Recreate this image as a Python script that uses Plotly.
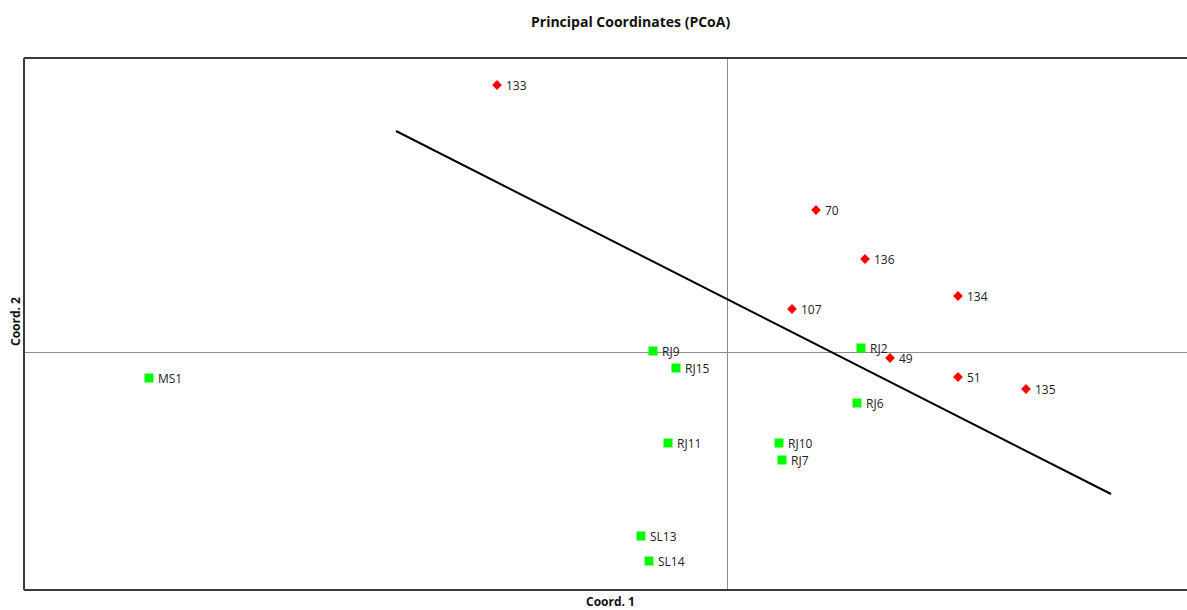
import plotly.graph_objects as go

# PCoA scores (Coord. 1, Coord. 2) for the two groups of samples
red_labels = ["133", "70", "136", "134", "107", "49", "51", "135"]
red_x = [-0.230, 0.089, 0.138, 0.231, 0.065, 0.163, 0.231, 0.299]
red_y = [0.267, 0.142, 0.093, 0.056, 0.043, -0.006, -0.025, -0.037]

green_labels = ["MS1", "RJ9", "RJ15", "RJ2", "RJ6", "RJ11", "RJ10", "RJ7", "SL13", "SL14"]
green_x = [-0.578, -0.074, -0.051, 0.134, 0.130, -0.059, 0.052, 0.055, -0.086, -0.078]
green_y = [-0.026, 0.001, -0.016, 0.004, -0.051, -0.091, -0.091, -0.108, -0.184, -0.209]

# Separating line endpoints
line_x = [-0.331, 0.384]
line_y = [0.221, -0.142]

x_range = [-0.703, 0.460]
y_range = [-0.238, 0.294]

label_font = dict(family="Open Sans, Arial, sans-serif", size=12, color="#222222")

fig = go.Figure()

fig.add_trace(go.Scatter(
    x=line_x, y=line_y, mode="lines",
    line=dict(color="black", width=2), hoverinfo="skip", showlegend=False))

fig.add_trace(go.Scatter(
    x=green_x, y=green_y, mode="markers", name="green",
    marker=dict(symbol="square", size=9, color="#00ff00", line=dict(width=0)),
    showlegend=False))

fig.add_trace(go.Scatter(
    x=red_x, y=red_y, mode="markers", name="red",
    marker=dict(symbol="diamond", size=7.5, color="#ff0000", line=dict(width=0)),
    showlegend=False))

annotations = []
for lab, xv, yv in zip(red_labels + green_labels, red_x + green_x, red_y + green_y):
    annotations.append(dict(
        x=xv, y=yv, xref="x", yref="y", text=lab, showarrow=False,
        xanchor="left", yanchor="middle", xshift=7, font=label_font))

# Layout geometry in pixels, used to place the title and axis captions
W, H = 1187, 610
L, R, T, B = 24, 0, 58, 20
pw, ph = W - L - R, H - T - B


def px_to_paper(px, py):
    return (px - L) / pw, (H - B - py) / ph


tx, ty = px_to_paper(630, 22)
annotations.append(dict(
    x=tx, y=ty, xref="paper", yref="paper", text="<b>Principal Coordinates (PCoA)</b>",
    showarrow=False, xanchor="center", yanchor="middle",
    font=dict(family="Open Sans, Arial, sans-serif", size=14, color="#111")))

cx, cy = px_to_paper(610, 601)
annotations.append(dict(
    x=cx, y=cy, xref="paper", yref="paper", text="<b>Coord. 1</b>", showarrow=False,
    xanchor="center", yanchor="middle",
    font=dict(family="Open Sans, Arial, sans-serif", size=12, color="#111")))

cx, cy = px_to_paper(15, 322)
annotations.append(dict(
    x=cx, y=cy, xref="paper", yref="paper", text="<b>Coord. 2</b>", showarrow=False,
    xanchor="center", yanchor="middle", textangle=-90,
    font=dict(family="Open Sans, Arial, sans-serif", size=12, color="#111")))

fig.update_layout(
    width=W, height=H,
    margin=dict(l=L, r=R, t=T, b=B),
    paper_bgcolor="white", plot_bgcolor="white",
    xaxis=dict(range=x_range, showgrid=False, showticklabels=False, ticks="",
               zeroline=True, zerolinecolor="#8c8c8c", zerolinewidth=1, fixedrange=True),
    yaxis=dict(range=y_range, showgrid=False, showticklabels=False, ticks="",
               zeroline=True, zerolinecolor="#8c8c8c", zerolinewidth=1, fixedrange=True),
    annotations=annotations,
)

# Frame on the left, top and bottom of the plotting area
frame = dict(color="#3a3a3a", width=2)
fig.add_shape(type="line", xref="paper", yref="paper", x0=0, x1=0, y0=0, y1=1, line=frame)
fig.add_shape(type="line", xref="paper", yref="paper", x0=0, x1=1, y0=1, y1=1, line=frame)
fig.add_shape(type="line", xref="paper", yref="paper", x0=0, x1=1, y0=0, y1=0, line=frame)

fig.write_html("out.html")
